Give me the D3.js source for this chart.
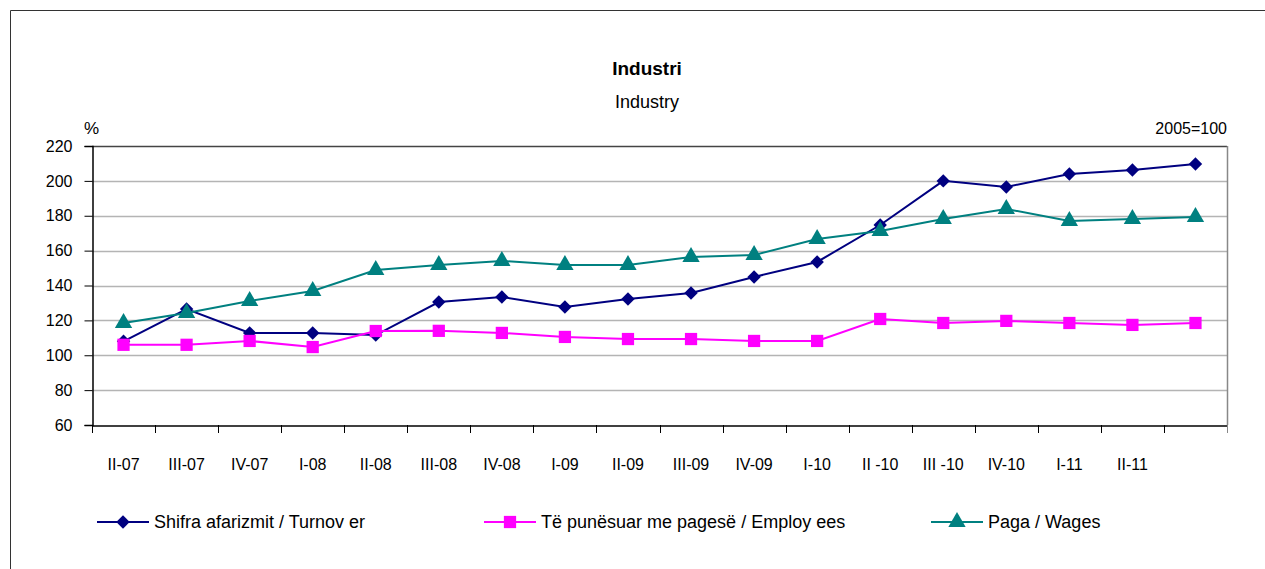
<!DOCTYPE html>
<html>
<head>
<meta charset="utf-8">
<script src="https://cdn.jsdelivr.net/npm/d3@7"></script>
<style>
  body { margin: 0; background: #fff; }
  svg { font-family: "Liberation Sans", Arial, sans-serif; }
</style>
</head>
<body>
<svg width="1265" height="569"></svg>
<script>
var quarters = ["II-07", "III-07", "IV-07", "I-08", "II-08", "III-08", "IV-08", "I-09", "II-09",
	"III-09", "IV-09", "I-10", "II -10", "III -10", "IV-10", "I-11", "II-11", ""];
var turnover = [108, 126.5, 112.8, 112.8, 111.6, 130.5, 133.4, 127.7, 132.3, 135.7, 144.9, 153.5,
	174.7, 200, 196.5, 203.9, 206.2, 209.7];
var employees = [106, 106, 108.2, 104.7, 113.9, 114, 112.8, 110.5, 109.3, 109.3, 108.2, 108.2,
	120.8, 118.5, 119.7, 118.5, 117.4, 118.5];
var wages = [118.5, 124.2, 131.1, 136.9, 148.9, 151.8, 154.1, 151.8, 151.8, 156.4, 157.5, 166.7,
	171.3, 178.1, 183.9, 177, 178.1, 179.3];
var yTicks = [60, 80, 100, 120, 140, 160, 180, 200, 220];
var seriesNames = ["Shifra afarizmit / Turnov er", "Të punësuar me pagesë / Employ ees", "Paga / Wages"];

var svg = d3.select("svg");
var plotLeft = 92, plotRight = 1227, plotTop = 146, plotBottom = 425;

// outer frame
svg.append("path")
	.attr("d", "M10.5,569V10.5H1265")
	.style("fill", "none")
	.style("stroke", "#333")
	.style("stroke-width", 1);

var x = d3.scaleBand().domain(d3.range(quarters.length)).range([plotLeft, plotRight]);
var y = d3.scaleLinear().domain([60, 220]).range([plotBottom, plotTop]);

// grid
svg.append("g")
	.selectAll("line")
	.data(yTicks.slice(1))
	.enter().append("line")
	.attr("x1", plotLeft).attr("x2", plotRight)
	.attr("y1", function(d){ return Math.round(y(d)) + 0.5; })
	.attr("y2", function(d){ return Math.round(y(d)) + 0.5; })
	.style("stroke", function(d){ return d == 220 ? "#444" : "#b4b4b4"; })
	.style("stroke-width", 1.5);

// right border
svg.append("line")
	.attr("x1", plotRight + 0.5).attr("x2", plotRight + 0.5)
	.attr("y1", plotTop).attr("y2", plotBottom)
	.style("stroke", "#888").style("stroke-width", 1.5);

// y axis
var yAxis = svg.append("g")
	.attr("transform", "translate(" + (plotLeft + 0.5) + ",0)")
	.call(d3.axisLeft(y).tickValues(yTicks).tickSize(8).tickPadding(12));
yAxis.select(".domain").style("stroke", "#000").style("stroke-width", 1.5);
yAxis.selectAll(".tick line").style("stroke", "#000");
yAxis.selectAll("text").style("font-size", "16px").style("fill", "#000")
	.style("font-family", "'Liberation Sans', Arial, sans-serif");

// x axis
var xAxis = svg.append("g")
	.attr("transform", "translate(0," + (plotBottom + 0.5) + ")")
	.call(d3.axisBottom(x).tickFormat(function(i){ return quarters[i]; }).tickSize(0).tickPadding(33));
xAxis.select(".domain").style("stroke", "#000").style("stroke-width", 1.5);
xAxis.selectAll("text").style("font-size", "16px").style("fill", "#000")
	.style("font-family", "'Liberation Sans', Arial, sans-serif");
// ticks between categories
svg.append("g")
	.selectAll("line")
	.data(d3.range(quarters.length + 1))
	.enter().append("line")
	.attr("x1", function(i){ return Math.round(plotLeft + i * x.step()) + 0.5; })
	.attr("x2", function(i){ return Math.round(plotLeft + i * x.step()) + 0.5; })
	.attr("y1", plotBottom).attr("y2", plotBottom + 8)
	.style("stroke", function(i){ return i == quarters.length ? "#888" : "#000"; })
	.style("stroke-width", 1);

// titles
svg.append("text").attr("x", 647).attr("y", 75).attr("text-anchor", "middle")
	.style("font-size", "19px").style("font-weight", "bold").text("Industri");
svg.append("text").attr("x", 647).attr("y", 108).attr("text-anchor", "middle")
	.style("font-size", "18px").text("Industry");
svg.append("text").attr("x", 84).attr("y", 134)
	.style("font-size", "17px").text("%");
svg.append("text").attr("x", 1227).attr("y", 134).attr("text-anchor", "end")
	.style("font-size", "16px").text("2005=100");

function cx(i){ return x(i) + x.bandwidth() / 2; }

var line = d3.line()
	.x(function(d, i){ return cx(i); })
	.y(function(d){ return y(d); });

var series = [
	{ values: turnover, color: "#000080", shape: d3.symbolSquare, size: 90, rot: 45 },
	{ values: employees, color: "#ff00ff", shape: d3.symbolSquare, size: 150, rot: 0 },
	{ values: wages, color: "#008080", shape: d3.symbolTriangle, size: 130, rot: 0 }
];

series.forEach(function(s){
	svg.append("path")
		.datum(s.values)
		.attr("d", line)
		.style("fill", "none")
		.style("stroke", s.color)
		.style("stroke-width", 2);
	svg.append("g")
		.selectAll("path")
		.data(s.values)
		.enter().append("path")
		.attr("transform", function(d, i){ return "translate(" + cx(i) + "," + y(d) + ") rotate(" + s.rot + ")"; })
		.attr("d", d3.symbol().type(s.shape).size(s.size))
		.style("fill", s.color);
});

// legend
var legendX = [97, 484, 931];
series.forEach(function(s, i){
	var g = svg.append("g").attr("transform", "translate(" + legendX[i] + ",522)");
	g.append("line").attr("x1", 0).attr("x2", 52).attr("y1", 0).attr("y2", 0)
		.style("stroke", s.color).style("stroke-width", 2);
	g.append("path").attr("transform", "translate(26,0) rotate(" + s.rot + ")")
		.attr("d", d3.symbol().type(s.shape).size(s.size))
		.style("fill", s.color);
	g.append("text").attr("x", 57).attr("y", 6)
		.style("font-size", "18px").text(seriesNames[i]);
});
</script>
</body>
</html>
